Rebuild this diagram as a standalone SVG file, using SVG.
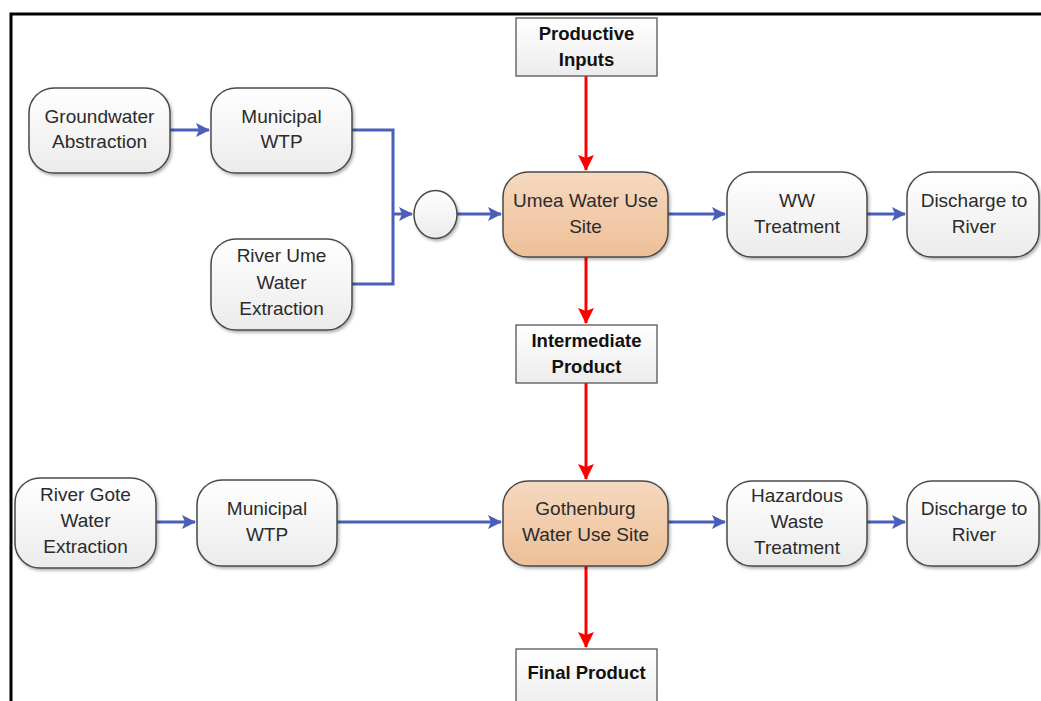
<svg xmlns="http://www.w3.org/2000/svg" width="1041" height="701" viewBox="0 0 1041 701">
<defs>
<linearGradient id="gw" x1="0" y1="0" x2="0" y2="1"><stop offset="0" stop-color="#ffffff"/><stop offset="1" stop-color="#ebebeb"/></linearGradient>
<linearGradient id="go" x1="0" y1="0" x2="0" y2="1"><stop offset="0" stop-color="#f6d9c0"/><stop offset="1" stop-color="#eebf97"/></linearGradient>
<linearGradient id="gs" x1="0" y1="0" x2="0" y2="1"><stop offset="0" stop-color="#ffffff"/><stop offset="1" stop-color="#ececec"/></linearGradient>
<filter id="sh" x="-10%" y="-10%" width="125%" height="130%"><feDropShadow dx="1.5" dy="2" stdDeviation="1.5" flood-color="#000" flood-opacity="0.3"/></filter>
<marker id="ab" markerWidth="14" markerHeight="14" refX="13" refY="7" orient="auto" markerUnits="userSpaceOnUse"><path d="M0,0 L14,7 L0,14 L3,7 Z" fill="#4a5fb8"/></marker>
<marker id="ar" markerWidth="16" markerHeight="16" refX="15" refY="8" orient="auto" markerUnits="userSpaceOnUse"><path d="M0,0 L16,8 L0,16 L3,8 Z" fill="#ff0000"/></marker>
</defs>
<style>
.rn{fill:url(#gw);stroke:#4a4a4a;stroke-width:1.5;filter:url(#sh)}
.ro{fill:url(#go);stroke:#4a4a4a;stroke-width:1.5;filter:url(#sh)}
.sq{fill:url(#gs);stroke:#555;stroke-width:1.3}
.t{font-family:"Liberation Sans",Arial,sans-serif;font-size:19px;fill:#2b2b2b;text-anchor:middle}
.b{font-family:"Liberation Sans",Arial,sans-serif;font-size:18.5px;font-weight:bold;fill:#111;text-anchor:middle}
.cb{fill:none;stroke:#4a5fb8;stroke-width:3}
.cr{fill:none;stroke:#ff0000;stroke-width:3}
</style>
<rect x="0" y="0" width="1041" height="701" fill="#fff"/>
<path d="M11,701 V14 H1041" fill="none" stroke="#000" stroke-width="3"/>

<g id="connectors">
<path class="cb" d="M170,130 H209" marker-end="url(#ab)"/>
<path class="cb" d="M352,130 H393 V284 H352"/>
<path class="cb" d="M393,214 H412" marker-end="url(#ab)"/>
<path class="cb" d="M457,214 H501" marker-end="url(#ab)"/>
<path class="cb" d="M668,214 H725" marker-end="url(#ab)"/>
<path class="cb" d="M867,214 H905" marker-end="url(#ab)"/>
<path class="cb" d="M156,522 H195" marker-end="url(#ab)"/>
<path class="cb" d="M337,522 H501" marker-end="url(#ab)"/>
<path class="cb" d="M668,522 H725" marker-end="url(#ab)"/>
<path class="cb" d="M867,522 H905" marker-end="url(#ab)"/>
<path class="cr" d="M586,76 V170" marker-end="url(#ar)"/>
<path class="cr" d="M586,257 V323" marker-end="url(#ar)"/>
<path class="cr" d="M586,383 V479" marker-end="url(#ar)"/>
<path class="cr" d="M586,566 V647" marker-end="url(#ar)"/>
</g>

<g id="groundwater">
<rect class="rn" x="29" y="88" width="141" height="85" rx="25"/>
<text class="t" x="99.5" y="123">Groundwater</text>
<text class="t" x="99.5" y="148">Abstraction</text>
</g>
<g id="municipal-wtp-1">
<rect class="rn" x="211" y="88" width="141" height="85" rx="25"/>
<text class="t" x="281.5" y="123">Municipal</text>
<text class="t" x="281.5" y="148">WTP</text>
</g>
<g id="river-ume">
<rect class="rn" x="211" y="239" width="141" height="91" rx="25"/>
<text class="t" x="281.5" y="262">River Ume</text>
<text class="t" x="281.5" y="289">Water</text>
<text class="t" x="281.5" y="315">Extraction</text>
</g>
<g id="junction">
<ellipse class="rn" cx="435.5" cy="214.5" rx="21.5" ry="24"/>
</g>
<g id="productive-inputs">
<rect class="sq" x="516" y="18" width="141" height="58"/>
<text class="b" x="586.5" y="40">Productive</text>
<text class="b" x="586.5" y="66">Inputs</text>
</g>
<g id="umea">
<rect class="ro" x="503" y="172" width="165" height="85" rx="25"/>
<text class="t" x="585.5" y="207">Umea Water Use</text>
<text class="t" x="585.5" y="233">Site</text>
</g>
<g id="ww-treatment">
<rect class="rn" x="727" y="172" width="140" height="85" rx="25"/>
<text class="t" x="797" y="207">WW</text>
<text class="t" x="797" y="233">Treatment</text>
</g>
<g id="discharge-1">
<rect class="rn" x="907" y="172" width="132" height="85" rx="25"/>
<text class="t" x="974" y="207">Discharge to</text>
<text class="t" x="974" y="233">River</text>
</g>
<g id="intermediate-product">
<rect class="sq" x="516" y="325" width="141" height="58"/>
<text class="b" x="586.5" y="347">Intermediate</text>
<text class="b" x="586.5" y="373">Product</text>
</g>
<g id="river-gote">
<rect class="rn" x="15" y="478" width="141" height="90" rx="25"/>
<text class="t" x="85.5" y="501">River Gote</text>
<text class="t" x="85.5" y="527">Water</text>
<text class="t" x="85.5" y="553">Extraction</text>
</g>
<g id="municipal-wtp-2">
<rect class="rn" x="197" y="480" width="140" height="86" rx="25"/>
<text class="t" x="267" y="515">Municipal</text>
<text class="t" x="267" y="541">WTP</text>
</g>
<g id="gothenburg">
<rect class="ro" x="503" y="481" width="165" height="85" rx="25"/>
<text class="t" x="585.5" y="515">Gothenburg</text>
<text class="t" x="585.5" y="541">Water Use Site</text>
</g>
<g id="hazardous">
<rect class="rn" x="727" y="481" width="140" height="85" rx="25"/>
<text class="t" x="797" y="502">Hazardous</text>
<text class="t" x="797" y="528">Waste</text>
<text class="t" x="797" y="554">Treatment</text>
</g>
<g id="discharge-2">
<rect class="rn" x="907" y="481" width="132" height="85" rx="25"/>
<text class="t" x="974" y="515">Discharge to</text>
<text class="t" x="974" y="541">River</text>
</g>
<g id="final-product">
<rect class="sq" x="516" y="649" width="141" height="60"/>
<text class="b" x="586.5" y="679">Final Product</text>
</g>
</svg>
